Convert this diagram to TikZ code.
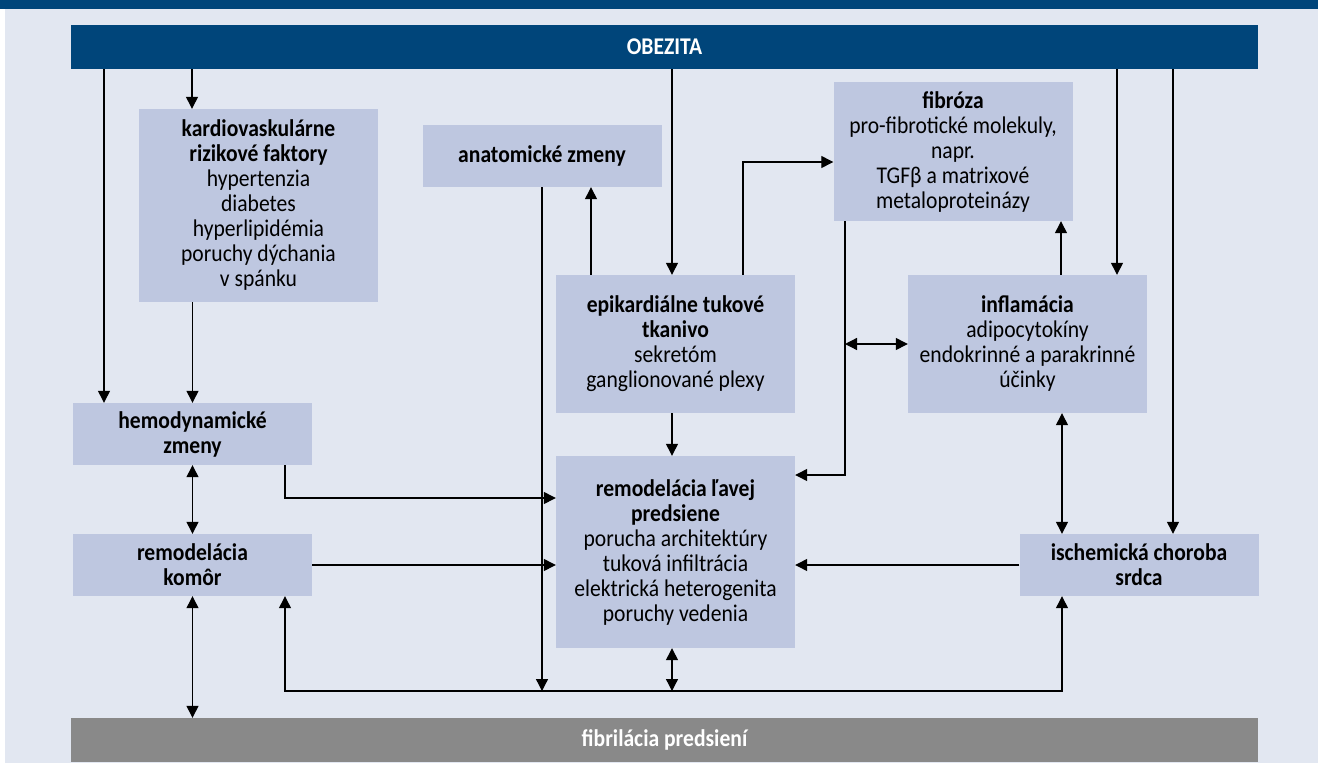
\documentclass[tikz,border=0pt]{standalone}
\usepackage{fontspec}
\setmainfont{Carlito}[FakeStretch=0.9]
\usetikzlibrary{arrows.meta}

\definecolor{obezblue}{RGB}{0,69,122}
\definecolor{boxfill}{RGB}{190,199,224}
\definecolor{bgblue}{RGB}{226,231,241}
\definecolor{bargray}{RGB}{137,137,137}

\tikzset{
  box/.style={fill=boxfill, inner sep=0pt, minimum width=239pt, align=center,
    font=\fontsize{24}{25}\selectfont},
  bar/.style={fill=#1, inner sep=0pt, minimum width=1187pt, minimum height=44pt,
    text=white, font=\fontsize{24}{25}\selectfont\bfseries},
  link/.style={line width=1.3pt},
}

\begin{document}
\begin{tikzpicture}[x=1pt,y=-1pt,>={Triangle[length=12pt,width=12pt]}]
  \useasboundingbox (0,0) rectangle (1318,763);

  % pozadie
  \fill[bgblue] (5,9) rectangle (1318,763);
  \fill[obezblue] (0,0) rectangle (1318,9);

  % pruhy hore a dole
  \node[bar=obezblue] (obez) at (664.5,47) {OBEZITA};
  \node[bar=bargray] (fibril) at (664.5,740) {fibrilácia predsiení};

  % boxy
  \node[box, minimum height=193pt] (kardio) at (258.5,205.5)
    {\textbf{kardiovaskulárne}\\\textbf{rizikové faktory}\\hypertenzia\\diabetes\\hyperlipidémia\\poruchy dýchania\\v spánku};
  \node[box, minimum height=62pt] (anat) at (542,156) {\textbf{anatomické zmeny}};
  \node[box, minimum height=139pt] (fibr) at (953,151.5)
    {\textbf{fibróza}\\pro-fibrotické molekuly,\\napr.\\TGFβ a matrixové\\metaloproteinázy};
  \node[box, minimum height=138pt] (epi) at (675.5,344)
    {\textbf{epikardiálne tukové}\\\textbf{tkanivo}\\sekretóm\\ganglionované plexy};
  \node[box, minimum height=138pt] (infl) at (1027.5,344)
    {\textbf{inflamácia}\\adipocytokíny\\endokrinné a parakrinné\\účinky};
  \node[box, minimum height=62pt] (hemo) at (192.5,434) {\textbf{hemodynamické}\\\textbf{zmeny}};
  \node[box, minimum height=192pt] (remo) at (675.5,552)
    {\textbf{remodelácia ľavej}\\\textbf{predsiene}\\porucha architektúry\\tuková infiltrácia\\elektrická heterogenita\\poruchy vedenia};
  \node[box, minimum height=62pt] (komor) at (192.5,565) {\textbf{remodelácia}\\\textbf{komôr}};
  \node[box, minimum height=62pt] (isch) at (1139,565) {\textbf{ischemická choroba}\\\textbf{srdca}};

  % spodna linka
  \coordinate (bl) at (285,691);
  \coordinate (br) at (1062,691);

  % sipky z obezity
  \foreach \xx/\tgt in {104/hemo, 192/kardio, 672/epi, 1117/infl, 1173/isch} {
    \draw[link,->] (\xx,0 |- obez.south) -- (\xx,0 |- \tgt.north);
  }

  \draw[link,->] (kardio.south -| hemo.north) -- (hemo.north);
  \draw[link,->] (591,0 |- epi.north) -- (591,0 |- anat.south);
  \draw[link,->] (743,0 |- epi.north) |- (fibr.west |- 0,162);
  \draw[link,->] (845,0 |- fibr.south) |- (remo.east |- 0,475);
  \draw[link,<->] (845,0 |- infl.west) -- (infl.west);
  \draw[link,->] (1061,0 |- infl.north) -- (1061,0 |- fibr.south);
  \draw[link,<->] (1062,0 |- infl.south) -- (1062,0 |- isch.north);
  \draw[link,->] (672,0 |- epi.south) -- (672,0 |- remo.north);
  \draw[link,->] (285,0 |- hemo.south) |- (remo.west |- 0,498);
  \draw[link,<->] (hemo.south) -- (komor.north);
  \draw[link,->] (komor.east) -- (remo.west |- komor.east);
  \draw[link,->] (isch.west) -- (remo.east |- isch.west);
  \draw[link,<->] (komor.south -| bl) -- (bl) -- (br) -- (isch.south -| br);
  \draw[link,->] (anat.south) -- (anat.south |- bl);
  \draw[link,<->] (672,0 |- remo.south) -- (672,0 |- bl);
  \draw[link,<->] (komor.south) -- (fibril.north -| komor.south);

\end{tikzpicture}
\end{document}
